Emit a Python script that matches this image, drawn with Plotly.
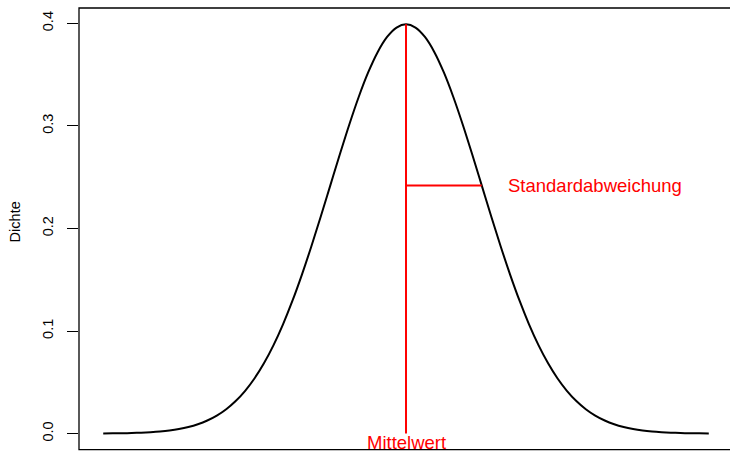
import plotly.graph_objects as go

# density curve (x step 0.125)
x_vals = [-4.0, -3.875, -3.75, -3.625, -3.5, -3.375, -3.25, -3.125, -3.0, -2.875, -2.75,
          -2.625, -2.5, -2.375, -2.25, -2.125, -2.0, -1.875, -1.75, -1.625, -1.5, -1.375,
          -1.25, -1.125, -1.0, -0.875, -0.75, -0.625, -0.5, -0.375, -0.25, -0.125, 0.0,
          0.125, 0.25, 0.375, 0.5, 0.625, 0.75, 0.875, 1.0, 1.125, 1.25, 1.375, 1.5, 1.625,
          1.75, 1.875, 2.0, 2.125, 2.25, 2.375, 2.5, 2.625, 2.75, 2.875, 3.0, 3.125, 3.25,
          3.375, 3.5, 3.625, 3.75, 3.875, 4.0]
dichte = [0.00013, 0.00022, 0.00035, 0.00056, 0.00087, 0.00134, 0.00203, 0.00302, 0.00443,
          0.00640, 0.00909, 0.01273, 0.01753, 0.02377, 0.03174, 0.04172, 0.05399, 0.06879,
          0.08628, 0.10654, 0.12952, 0.15502, 0.18265, 0.21187, 0.24197, 0.27205, 0.30114,
          0.32816, 0.35207, 0.37185, 0.38667, 0.39584, 0.39894, 0.39584, 0.38667, 0.37185,
          0.35207, 0.32816, 0.30114, 0.27205, 0.24197, 0.21187, 0.18265, 0.15502, 0.12952,
          0.10654, 0.08628, 0.06879, 0.05399, 0.04172, 0.03174, 0.02377, 0.01753, 0.01273,
          0.00909, 0.00640, 0.00443, 0.00302, 0.00203, 0.00134, 0.00087, 0.00056, 0.00035,
          0.00022, 0.00013]

mittelwert = 0.0
sd = 1.0
peak = 0.39894
sd_hoehe = 0.24197

y_ticks = [0.0, 0.1, 0.2, 0.3, 0.4]
y_tick_text = ["0.0", "0.1", "0.2", "0.3", "0.4"]

red = "#FF0000"
font = "Liberation Sans, Arial, sans-serif"

fig = go.Figure()
fig.add_trace(go.Scatter(x=x_vals, y=dichte, mode="lines", line=dict(color="black", width=2, shape="spline"),
                         showlegend=False, hoverinfo="skip"))
# mean line
fig.add_trace(go.Scatter(x=[mittelwert, mittelwert], y=[0, peak], mode="lines",
                         line=dict(color=red, width=2), showlegend=False, hoverinfo="skip"))
# standard deviation line
fig.add_trace(go.Scatter(x=[mittelwert, mittelwert + sd], y=[sd_hoehe, sd_hoehe], mode="lines",
                         line=dict(color=red, width=2), showlegend=False, hoverinfo="skip"))

fig.add_annotation(x=2.5, y=sd_hoehe, text="Standardabweichung", showarrow=False,
                   xanchor="center", yanchor="middle", font=dict(color=red, size=18.5, family=font))
fig.add_annotation(x=mittelwert, y=-0.0085, text="Mittelwert", showarrow=False,
                   xanchor="center", yanchor="middle", font=dict(color=red, size=18.5, family=font))
fig.add_annotation(xref="paper", yref="paper", x=-0.0983, y=0.515, text="Dichte", textangle=-90,
                   showarrow=False, xanchor="center", yanchor="middle",
                   font=dict(color="black", size=14.5, family=font))

# box around plot region (right side falls off the page)
fig.add_shape(type="rect", xref="paper", yref="paper", x0=0, x1=1.02, y0=0.001, y1=1,
              line=dict(color="black", width=1.3))

fig.update_layout(
    width=730, height=451,
    margin=dict(l=79, r=0, t=8, b=1),
    plot_bgcolor="white", paper_bgcolor="white",
    font=dict(family=font, color="black"),
    xaxis=dict(range=[-4.32, 4.28], showticklabels=False, ticks="", showgrid=False,
               zeroline=False, showline=False),
    yaxis=dict(range=[-0.016, 0.4149], tickvals=y_ticks, ticktext=y_tick_text, ticks="outside",
               ticklen=11, tickwidth=1, tickcolor="black", tickangle=-90, showgrid=False,
               zeroline=False, showline=False, automargin=False, ticklabelstandoff=8,
               tickfont=dict(size=14.5, family=font, color="black")),
)

# drop the default page margin so the figure fills the window
fig.write_html("out.html", config={"displayModeBar": False},
               post_script="document.body.style.margin='0';document.body.style.overflow='hidden';")
